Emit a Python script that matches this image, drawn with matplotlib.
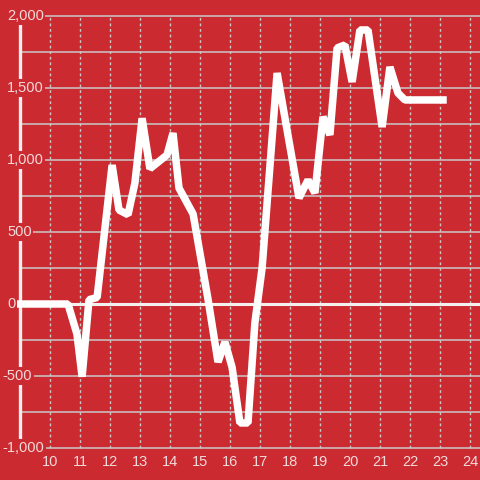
import matplotlib.pyplot as plt

# series
x_vals = [9.0, 10.6, 10.9, 11.07, 11.3, 11.57, 12.07, 12.3, 12.6, 12.83, 13.07,
          13.33, 13.9, 14.1, 14.3, 14.77, 15.27, 15.6, 15.83, 16.07, 16.33,
          16.6, 16.83, 17.07, 17.57, 17.93, 18.3, 18.6, 18.83, 19.1, 19.33,
          19.57, 19.83, 20.07, 20.33, 20.6, 21.07, 21.33, 21.6, 21.83, 23.1]
y_vals = [0, 0, -210, -505, 30, 45, 965, 653, 620, 840, 1290,
          940, 1035, 1187, 805, 625, 30, -403, -264, -440, -826,
          -826, -130, 250, 1604, 1175, 736, 861, 771, 1300, 1174,
          1778, 1799, 1542, 1903, 1903, 1229, 1646, 1465, 1417, 1417]

y_ticks = [2000, 1500, 1000, 500, 0, -500, -1000]
y_grid = [-1000, -750, -500, -250, 250, 500, 750, 1000, 1250, 1500, 1750, 2000]
x_ticks = list(range(10, 25))

bg = '#cb2a30'
grid_col = '#c9c9c9'
label_col = '#f2dada'

plt.rcParams['font.family'] = 'Liberation Sans'

fig = plt.figure(figsize=(4.8, 4.8), dpi=100)
fig.patch.set_facecolor(bg)
ax = fig.add_axes([0, 0, 1, 1])
ax.set_facecolor(bg)
ax.axis('off')

# pixel based limits: x=10 at px 50, 30 px per unit; y=2000 at px 16, 0.144 px per unit
ax.set_xlim(10 - 50 / 30, 10 + 430 / 30)
ax.set_ylim(-1000 - 32 / 0.144, 2000 + 16 / 0.144)

# grid
ax.hlines(y_grid, 9.0, 24.4, color=grid_col, lw=1.1, zorder=1)
ax.vlines(x_ticks, -1000, 2000, color=grid_col, lw=1.0, linestyles=(0, (2, 2)), zorder=1)

# left axis line and zero line
ax.vlines(9.0, -1000, 2000, color='#f0eeee', lw=2.4, zorder=2)
ax.hlines(0, 8.9, 24.4, color='#f4f0f0', lw=2.2, zorder=3)

# data line
ax.plot(x_vals, y_vals, color='white', lw=5.4, solid_joinstyle='bevel',
        solid_capstyle='projecting', zorder=4)

# y tick labels
for v in y_ticks:
    txt = '{:,}'.format(abs(v))
    xpos = 10 - 43 / 30
    if v < 0:
        txt = '-' + txt
        xpos = 10 - 47.5 / 30
    ax.text(xpos, v, txt, ha='left', va='center', fontsize=10.5, color=label_col,
            bbox=dict(facecolor=bg, edgecolor='none', pad=1.2), zorder=5)

# x tick labels
for v in x_ticks:
    ax.text(v, -1000 - 14 / 0.144, str(v), ha='center', va='center', fontsize=10.5,
            color=label_col, zorder=5)

plt.savefig('out.png', dpi=100, facecolor=bg)
